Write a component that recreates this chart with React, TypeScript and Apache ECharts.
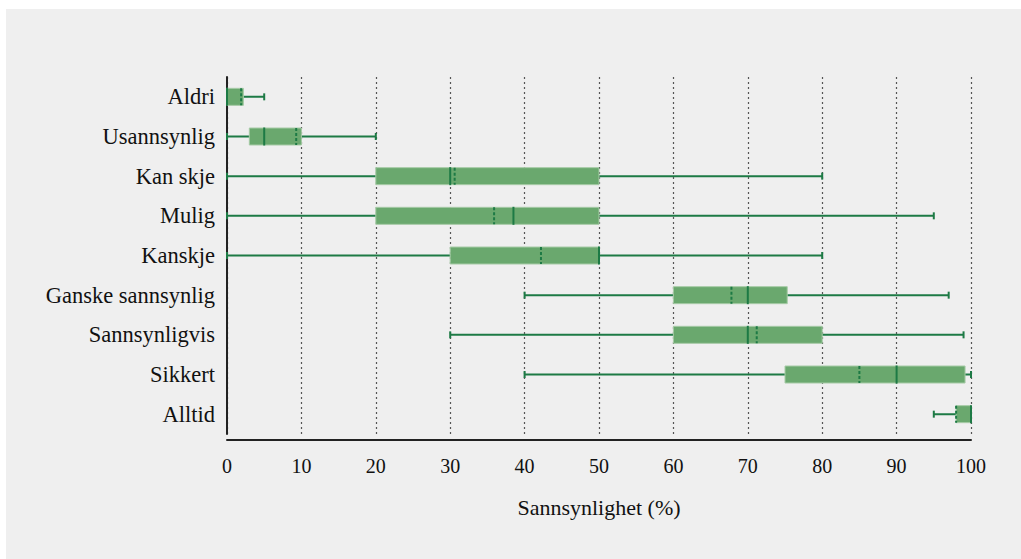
import React, { useEffect, useRef } from "react";
import * as echarts from "echarts";

const categories = [
  "Aldri",
  "Usannsynlig",
  "Kan skje",
  "Mulig",
  "Kanskje",
  "Ganske sannsynlig",
  "Sannsynligvis",
  "Sikkert",
  "Alltid",
];
const mins = [0, 0, 0, 0, 0, 40, 30, 40, 95];
const q1s = [0, 3, 20, 20, 30, 60, 60, 75, 98];
const medians = [0, 5, 30, 38.5, 50, 70, 70, 90, 100];
const q3s = [2.2, 10, 50, 50, 50, 75.3, 80, 99.2, 100];
const maxs = [5, 20, 80, 95, 80, 97, 99, 100, 100];
const means = [1.9, 9.3, 30.6, 35.9, 42.2, 67.8, 71.2, 85, 98];
const xTicks = [0, 10, 20, 30, 40, 50, 60, 70, 80, 90, 100];

const FONT = "'Liberation Serif', 'DejaVu Serif', serif";
const LINE = "#1d7a45";
const FILL = "#6aa86e";
const EDGE = "#a6cba6";

export default function App() {
  const ref = useRef<HTMLDivElement>(null);
  useEffect(() => {
    document.body.style.margin = "0";
    if (!ref.current) return;
    const chart = echarts.init(ref.current, undefined, { renderer: "svg" });
    const rows = categories.map((_, i) => [
      i,
      mins[i],
      q1s[i],
      medians[i],
      q3s[i],
      maxs[i],
      means[i],
    ]);
    chart.setOption({
      animation: false,
      grid: { left: 227, right: 50, top: 77, bottom: 125, containLabel: false },
      xAxis: {
        type: "value",
        min: 0,
        max: 100,
        interval: 10,
        offset: 6,
        axisLine: { show: true, lineStyle: { color: "#222", width: 2 } },
        axisTick: { show: false },
        axisLabel: {
          margin: 16,
          fontFamily: FONT,
          fontSize: 20,
          color: "#111",
          formatter: (v: number) => (xTicks.includes(v) ? String(v) : ""),
        },
        splitLine: {
          show: true,
          lineStyle: { color: "#555", width: 1.2, type: [2, 3] },
        },
        name: "Sannsynlighet (%)",
        nameLocation: "middle",
        nameGap: 56,
        nameTextStyle: { fontFamily: FONT, fontSize: 22, color: "#111" },
      },
      yAxis: {
        type: "category",
        data: categories,
        inverse: true,
        axisLine: { show: true, lineStyle: { color: "#222", width: 2 } },
        axisTick: { show: false },
        axisLabel: {
          margin: 12,
          fontFamily: FONT,
          fontSize: 22.5,
          color: "#111",
        },
        splitLine: { show: false },
      },
      series: [
        {
          type: "custom",
          data: rows,
          encode: { x: [1, 2, 3, 4, 5, 6], y: 0 },
          renderItem: (params: any, api: any) => {
            const idx = api.value(0);
            const y = api.coord([0, idx])[1];
            const px = (v: number) => api.coord([v, idx])[0];
            const h = 17;
            const cap = 7;
            const xMin = px(api.value(1));
            const xQ1 = px(api.value(2));
            const xMed = px(api.value(3));
            const xQ3 = px(api.value(4));
            const xMax = px(api.value(5));
            const xMean = px(api.value(6));
            const lineStyle = { stroke: LINE, lineWidth: 2 };
            return {
              type: "group",
              children: [
                {
                  type: "line",
                  shape: { x1: xMin, y1: y, x2: xMax, y2: y },
                  style: lineStyle,
                },
                {
                  type: "line",
                  shape: { x1: xMin, y1: y - cap / 2, x2: xMin, y2: y + cap / 2 },
                  style: lineStyle,
                },
                {
                  type: "line",
                  shape: { x1: xMax, y1: y - cap / 2, x2: xMax, y2: y + cap / 2 },
                  style: lineStyle,
                },
                {
                  type: "rect",
                  shape: { x: xQ1, y: y - h / 2, width: xQ3 - xQ1, height: h },
                  style: { fill: FILL, stroke: EDGE, lineWidth: 1 },
                },
                {
                  type: "line",
                  shape: { x1: xMean, y1: y - h / 2, x2: xMean, y2: y + h / 2 },
                  style: { stroke: LINE, lineWidth: 2, lineDash: [3, 2] },
                },
                {
                  type: "line",
                  shape: { x1: xMed, y1: y - h / 2 - 0.5, x2: xMed, y2: y + h / 2 + 0.5 },
                  style: lineStyle,
                },
              ],
            };
          },
        },
      ],
    });
    return () => chart.dispose();
  }, []);
  return (
    <div style={{ position: "relative", width: 1021, height: 559, background: "#fff" }}>
      <div
        style={{
          position: "absolute",
          left: 6,
          top: 9,
          right: 0,
          bottom: 0,
          background: "#efefef",
        }}
      />
      <div ref={ref} style={{ position: "absolute", left: 0, top: 0, width: 1021, height: 559 }} />
    </div>
  );
}
